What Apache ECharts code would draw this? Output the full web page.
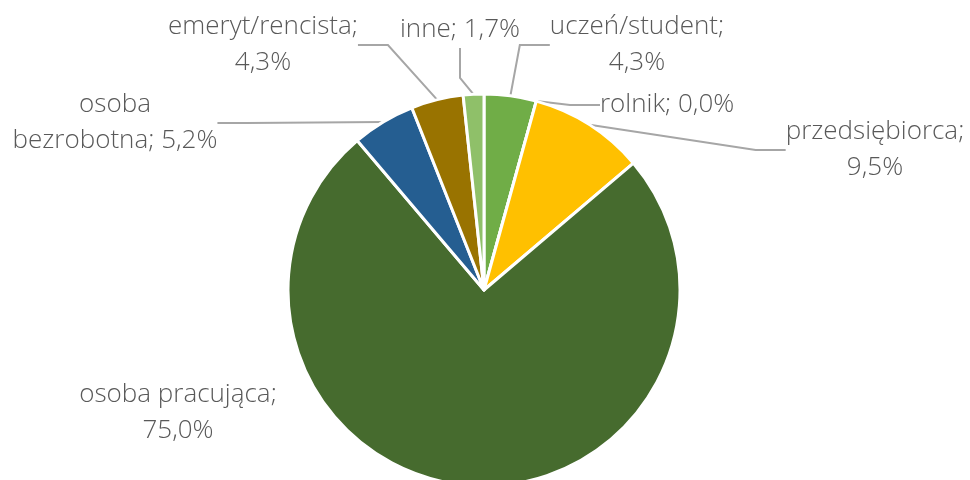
<!DOCTYPE html>
<html>
<head>
<meta charset="utf-8">
<script src="https://cdn.jsdelivr.net/npm/echarts@6/dist/echarts.min.js"></script>
<style>
  html, body { margin: 0; padding: 0; background: #fff; }
  #chart { width: 970px; height: 480px; }
</style>
</head>
<body>
<div id="chart"></div>
<script>
// kategorie i udziały (%) – kolejność zgodnie z ruchem wskazówek zegara od góry
var categories = ['uczeń/student', 'rolnik', 'przedsiębiorca', 'osoba pracująca', 'osoba bezrobotna', 'emeryt/rencista', 'inne'];
var shares = [4.3, 0.0, 9.5, 75.0, 5.2, 4.3, 1.7];
var colors = ['#70AD47', '#A5A5A5', '#FFC000', '#466B2E', '#255E91', '#997300', '#8FC069'];

// gdzie stoją etykiety (środek bloku tekstu) i czy łamać linię
var labelPos = [
    { x: 637, y: 45, br: 'semi' },
    { x: 600, y: 105, align: 'left' },
    { x: 875, y: 150, br: 'semi' },
    { x: 178, y: 413, br: 'semi', noLine: true },
    { x: 115, y: 123, br: 'space' },
    { x: 263, y: 45, br: 'semi' },
    { x: 460, y: 30 }
];

function fmt(v) {
    return v.toFixed(1).replace('.', ',') + '%';
}

var chart = echarts.init(document.getElementById('chart'));

var data = categories.map(function (name, i) {
    return {
        name: name,
        value: shares[i],
        itemStyle: { color: colors[i] },
        labelLine: { show: !labelPos[i].noLine }
    };
});

chart.setOption({
    animation: false,
    series: [{
        type: 'pie',
        center: [484, 290],
        radius: 196,
        startAngle: 90,
        clockwise: true,
        minAngle: 0,
        stillShowZeroSum: true,
        avoidLabelOverlap: false,
        itemStyle: { borderColor: '#fff', borderWidth: 3 },
        label: {
            show: true,
            position: 'outside',
            color: '#595959',
            fontFamily: 'Open Sans',
            fontWeight: 300,
            fontSize: 26,
            lineHeight: 36,
            formatter: function (p) {
                var lp = labelPos[p.dataIndex];
                var pct = fmt(p.value);
                if (lp.br === 'semi') return p.name + ';\n' + pct;
                if (lp.br === 'space') {
                    var parts = p.name.split(' ');
                    return parts[0] + '\n' + parts.slice(1).join(' ') + '; ' + pct;
                }
                return p.name + '; ' + pct;
            }
        },
        labelLine: {
            show: true,
            lineStyle: { color: '#A6A6A6', width: 2 }
        },
        labelLayout: function (params) {
            var lp = labelPos[params.dataIndex];
            return {
                x: lp.x,
                y: lp.y,
                align: lp.align || 'center',
                verticalAlign: 'middle'
            };
        },
        data: data
    }]
});
</script>
</body>
</html>
